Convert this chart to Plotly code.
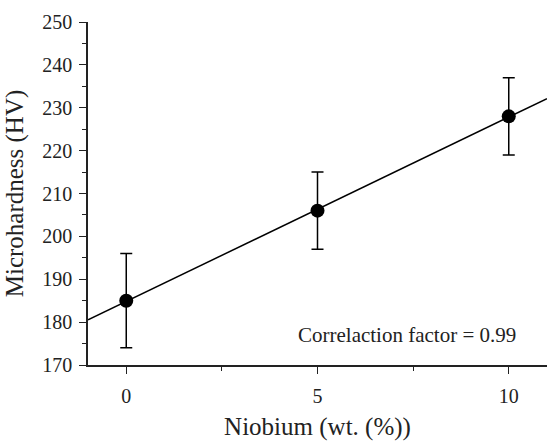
import numpy as np
import plotly.graph_objects as go

niobium = [0, 5, 10]
hardness = [185, 206, 228]
err = [11, 9, 9]
x_ticks = [0, 5, 10]
y_ticks = [170, 180, 190, 200, 210, 220, 230, 240, 250]

slope, intercept = np.polyfit(niobium, hardness, 1)
fit_x = [-1, 11]
fit_y = [slope * v + intercept for v in fit_x]

fig = go.Figure()
fig.add_trace(go.Scatter(x=fit_x, y=fit_y, mode="lines",
                         line=dict(color="black", width=1.5), showlegend=False))
fig.add_trace(go.Scatter(x=niobium, y=hardness, mode="markers",
                         marker=dict(color="black", size=14),
                         error_y=dict(type="data", array=err, color="black",
                                      thickness=1.5, width=6),
                         showlegend=False))

font = dict(family="Liberation Serif, serif", size=21, color="#222")
fig.add_annotation(x=10.25, y=177, xref="x", yref="y", xanchor="right", yanchor="middle",
                   text="Correlaction factor = 0.99", showarrow=False, font=font)

fig.update_layout(
    width=547, height=441,
    margin=dict(l=88, r=0, t=22, b=76),
    plot_bgcolor="white", paper_bgcolor="white",
    font=font,
    xaxis=dict(range=[-1, 11], tickvals=x_ticks, ticks="outside", ticklen=7,
               tickwidth=1.3, tickcolor="#222", showline=True, linecolor="#222",
               linewidth=1.5, showgrid=False, zeroline=False, automargin=False,
               tickfont=dict(size=20), ticklabelstandoff=5,
               minor=dict(tickvals=[2.5, 7.5], ticks="outside", ticklen=4,
                          tickwidth=1.3, tickcolor="#222"),
               title=dict(text="Niobium (wt. (%))", standoff=19)),
    yaxis=dict(range=[170, 250], tickvals=y_ticks, ticks="outside", ticklen=7,
               tickwidth=1.3, tickcolor="#222", showline=True, linecolor="#222",
               linewidth=1.5, showgrid=False, zeroline=False, automargin=False,
               tickfont=dict(size=20), ticklabelstandoff=3,
               minor=dict(dtick=5, tick0=0, ticks="outside", ticklen=4,
                          tickwidth=1.3, tickcolor="#222"),
               title=dict(text="Microhardness (HV)", standoff=12)),
)

fig.write_html("out.html", config={"displayModeBar": False},
               post_script="document.body.style.margin='0px';")
